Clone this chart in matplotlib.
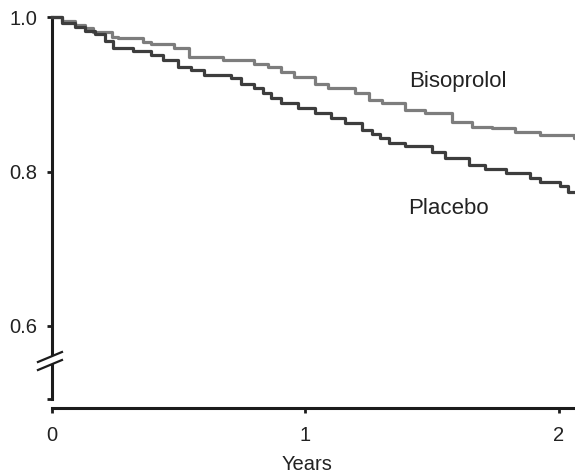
import matplotlib
matplotlib.use("Agg")
import matplotlib.pyplot as plt
from matplotlib.patches import Polygon
from matplotlib.lines import Line2D

plt.rcParams['font.family'] = ['Liberation Sans', 'DejaVu Sans']

# Kaplan-Meier survival estimates (time in years, proportion surviving)
placebo_t = [0.000, 0.040, 0.091, 0.131, 0.171, 0.210, 0.242, 0.321, 0.389, 0.440,
             0.496, 0.548, 0.599, 0.706, 0.746, 0.798, 0.833, 0.865, 0.905, 0.972,
             1.036, 1.103, 1.155, 1.222, 1.262, 1.294, 1.329, 1.393, 1.500, 1.552,
             1.647, 1.710, 1.790, 1.885, 1.925, 2.004, 2.036]
placebo_s = [1.000, 0.993, 0.988, 0.982, 0.978, 0.970, 0.961, 0.957, 0.951, 0.945,
             0.936, 0.932, 0.925, 0.921, 0.914, 0.908, 0.902, 0.895, 0.889, 0.882,
             0.876, 0.869, 0.863, 0.854, 0.849, 0.843, 0.837, 0.833, 0.826, 0.818,
             0.809, 0.803, 0.798, 0.792, 0.787, 0.781, 0.773]

bisoprolol_t = [0.000, 0.040, 0.091, 0.131, 0.163, 0.238, 0.262, 0.361, 0.389, 0.480,
                0.540, 0.675, 0.798, 0.853, 0.905, 0.956, 1.036, 1.091, 1.194, 1.250,
                1.302, 1.393, 1.472, 1.579, 1.659, 1.738, 1.829, 1.925, 2.060]
bisoprolol_s = [1.000, 0.995, 0.990, 0.986, 0.981, 0.975, 0.973, 0.968, 0.965, 0.961,
                0.949, 0.945, 0.939, 0.936, 0.929, 0.923, 0.914, 0.908, 0.902, 0.893,
                0.889, 0.880, 0.876, 0.865, 0.858, 0.856, 0.851, 0.848, 0.844]

followup_end = 2.07

x_ticks = [0, 1, 2]
x_tick_labels = ['0', '1', '2']
y_ticks = [0.505, 0.6, 0.8, 1.0]
y_tick_labels = ['', '0.6', '0.8', '1.0']

fig = plt.figure(figsize=(5.75, 4.75), dpi=100)
ax = fig.add_axes([0.0904, 0.16, 0.9096, 0.8032])

dark = '#1c1c1c'
ax.plot(bisoprolol_t + [followup_end], bisoprolol_s + [bisoprolol_s[-1]],
        drawstyle='steps-post', color='#7d7d7d', lw=2.3, clip_on=False, zorder=4)
ax.plot(placebo_t + [followup_end], placebo_s + [placebo_s[-1]],
        drawstyle='steps-post', color='#3d3d3d', lw=2.3, clip_on=False, zorder=4)

ax.text(1.409, 0.9094, 'Bisoprolol', fontsize=16, color='#222222', va='baseline', ha='left')
ax.text(1.405, 0.745, 'Placebo', fontsize=16, color='#222222', va='baseline', ha='left')

ax.set_xlim(0, 2.064)
ax.set_ylim(0.505, 1.0)
ax.set_xticks(x_ticks)
ax.set_xticklabels(x_tick_labels)
ax.set_yticks(y_ticks)
ax.set_yticklabels(y_tick_labels)

for side in ('top', 'right'):
    ax.spines[side].set_visible(False)
for side in ('left', 'bottom'):
    ax.spines[side].set_linewidth(2.2)
    ax.spines[side].set_color(dark)
ax.spines['bottom'].set_position(('outward', 6.5))

ax.tick_params(axis='both', direction='out', length=3.8, width=2.0, color=dark,
               labelsize=14.5, labelcolor='#222222')
ax.tick_params(axis='x', pad=9)
ax.tick_params(axis='y', pad=6.5)

ax.set_xlabel('Years', fontsize=14.5, color='#222222')
ax.xaxis.label.set_va('baseline')
ax.xaxis.set_label_coords(0.4876, -0.186)

# axis break marks on the y axis
up = [(-0.0268, 0.0970), (0.0191, 0.1232)]
lo = [(-0.0268, 0.0760), (0.0191, 0.1022)]
gap = Polygon([up[0], up[1], lo[1], lo[0]], closed=True, transform=ax.transAxes,
              facecolor='white', edgecolor='none', clip_on=False, zorder=6)
ax.add_patch(gap)
for seg in (up, lo):
    ax.add_line(Line2D([seg[0][0], seg[1][0]], [seg[0][1], seg[1][1]],
                       transform=ax.transAxes, color=dark, lw=1.6,
                       clip_on=False, zorder=7))

fig.savefig('out.png', dpi=100, facecolor='white')
